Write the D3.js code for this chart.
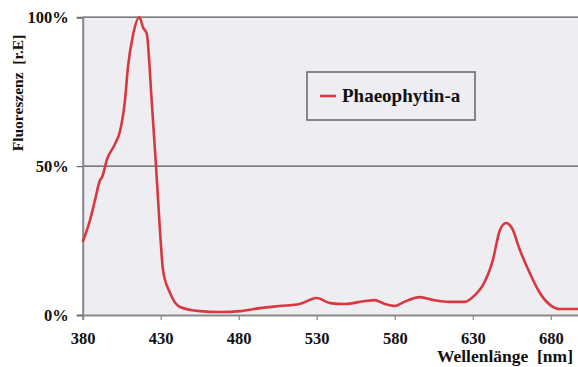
<!DOCTYPE html>
<html><head><meta charset="utf-8">
<script src="https://cdn.jsdelivr.net/npm/d3@7"></script>
<style>
html,body{margin:0;padding:0;background:#fff;}
</style></head>
<body><svg id="c" width="578" height="367"></svg>
<script>
const wavelength = [380,384.7,387.9,391.1,392.4,395.6,400.7,403.9,407.1,409,412.2,416.3,418.8,421,424.2,427,429.5,431.5,436,442.3,455.1,468,481,493.6,506,519,530,538.6,548,561,567,573.6,580,586,596,605,615,625,631.4,636.5,642.9,647.4,651.3,655.1,660.2,666.6,673,679.5,685.9,697.5];
const intensity = [24.5,31.9,38.6,45.3,46.3,52.3,57.4,61.7,72.1,83.2,93.9,100,96.4,94.6,72.1,50,28.5,15,7.4,2.7,1.3,1,1.3,2.3,3,3.7,5.7,4,3.7,4.7,5,3.7,3,4.4,6,5,4.4,4.4,6.7,10,18.5,28.5,30.9,29.2,21.8,14,7.4,3.4,2,2];
const xTicks = [380,430,480,530,580,630,680];
const yTicks = [0,50,100];
const seriesName = "Phaeophytin-a";

const FONT = "'Liberation Serif','Times New Roman',serif";
const svg = d3.select("#c");
const L = 82.7, T = 17.2, B = 315, R = 582;
const x = d3.scaleLinear().domain([380,700]).range([L,R]);
const y = d3.scaleLinear().domain([0,100]).range([B,T]);

svg.append("rect").attr("x",L).attr("y",T).attr("width",R-L).attr("height",B-T).attr("fill","#ededf2");

svg.append("g").selectAll("line").data(yTicks.filter(d=>d>0)).join("line")
  .attr("x1",L).attr("x2",R).attr("y1",d=>y(d)).attr("y2",d=>y(d))
  .attr("stroke","#555").attr("stroke-width",1.2);

function styleText(sel, size){
  sel.attr("font-size",size).attr("fill","#111")
    .style("font-family",FONT).style("font-weight","bold");
}

const xa = svg.append("g").attr("transform",`translate(0,${B})`)
  .call(d3.axisBottom(x).tickValues(xTicks).tickSize(5).tickPadding(12).tickFormat(d3.format("d")));
xa.select(".domain").attr("stroke","#888").attr("stroke-width",2);
xa.selectAll(".tick line").attr("stroke","#888").attr("stroke-width",1.2);
styleText(xa.selectAll("text"),16.5);

const ya = svg.append("g").attr("transform",`translate(${L},0)`)
  .call(d3.axisLeft(y).tickValues(yTicks).tickSize(6).tickPadding(8).tickFormat(d=>d+"%"));
ya.select(".domain").attr("stroke","#888").attr("stroke-width",2);
ya.selectAll(".tick line").attr("stroke","#666").attr("stroke-width",1.2);
styleText(ya.selectAll("text"),16.5);

const data = wavelength.map((w,i)=>[w,intensity[i]]);
svg.append("path").datum(data)
  .attr("fill","none").attr("stroke","#d9383f").attr("stroke-width",2.6).attr("stroke-linejoin","round")
  .attr("d", d3.line().x(d=>x(d[0])).y(d=>y(d[1])).curve(d3.curveMonotoneX));

svg.append("rect").attr("x",307).attr("y",72).attr("width",168).attr("height",48)
  .attr("fill","#ededf2").attr("stroke","#666").attr("stroke-width",1.5);
svg.append("line").attr("x1",320).attr("x2",336).attr("y1",96).attr("y2",96).attr("stroke","#d9383f").attr("stroke-width",2.6);
styleText(svg.append("text").attr("x",342).attr("y",102).text(seriesName),19);

styleText(svg.append("text").attr("x",573).attr("y",362).attr("text-anchor","end")
  .style("white-space","pre").text("Wellenlänge  [nm]"),17.5);
styleText(svg.append("text").attr("transform","translate(23,93) rotate(-90)").attr("text-anchor","middle")
  .style("white-space","pre").text("Fluoreszenz  [r.E]"),15.5);
</script></body></html>
